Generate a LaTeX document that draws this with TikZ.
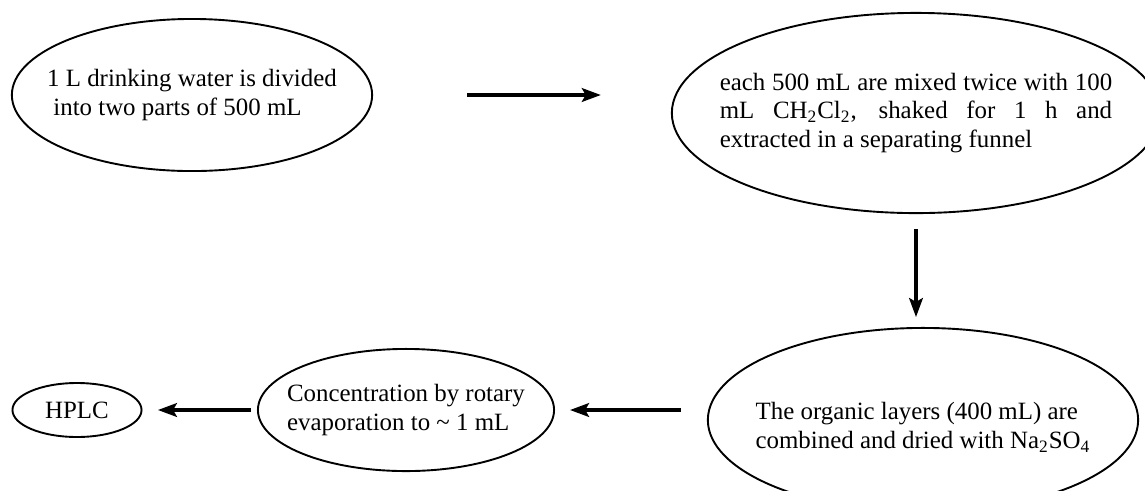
\documentclass[tikz,border=0pt]{standalone}
\usepackage{fontspec}
\setmainfont{Liberation Serif}
\usetikzlibrary{shapes.geometric, arrows.meta}

\begin{document}
\begin{tikzpicture}[x=0.016667cm, y=-0.016667cm,
    proc/.style={ellipse, draw, line width=0.9pt, inner sep=0pt},
    txt/.style={align=left, inner sep=0pt, font=\fontsize{11.8}{13.4}\selectfont},
    flow/.style={-{Stealth[length=9pt, width=6.5pt, inset=1.8pt]}, line width=1.6pt}]
    \useasboundingbox (0,0) rectangle (1145,490);

    % Nodes
    \node[proc, minimum width=170.8pt, minimum height=72.1pt,
        label={[txt]center:{1 L drinking water is divided\\\hspace*{0.25em}into two parts of 500 mL}}] (water) at (192,95) {};
    \node[proc, minimum width=231.5pt, minimum height=94.9pt,
        label={[txt, text width=186pt, align=justify]center:{each 500 mL are mixed twice with 100\linebreak mL CH\textsubscript{2}Cl\textsubscript{2}, shaked for 1 h and\linebreak extracted in a separating funnel}}] (extract) at (916,113) {};
    \node[proc, minimum width=204pt, minimum height=87.3pt,
        label={[txt, yshift=-3.5pt]center:{The organic layers (400 mL) are\\combined and dried with Na\textsubscript{2}SO\textsubscript{4}}}] (organic) at (923,420) {};
    \node[proc, minimum width=140.4pt, minimum height=57.9pt,
        label={[txt]center:{Concentration by rotary\\evaporation to \textasciitilde{} 1 mL}}] (conc) at (406,410) {};
    \node[proc, minimum width=61.2pt, minimum height=25.6pt,
        label={[txt]center:HPLC}] (hplc) at (77,410) {};

    \draw[flow, shorten <=44.6pt, shorten >=33.2pt] (water.east) -- (water.east -| extract.west);
    \draw[flow, shorten <=7.1pt, shorten >=4.7pt] (extract.south) -- (extract.south |- organic.north);
    \draw[flow, shorten <=12.3pt, shorten >=7.1pt] (conc.east -| organic.west) -- (conc.east);
    \draw[flow, shorten <=2.8pt, shorten >=7.3pt] (conc.west) -- (hplc.east);
\end{tikzpicture}
\end{document}
